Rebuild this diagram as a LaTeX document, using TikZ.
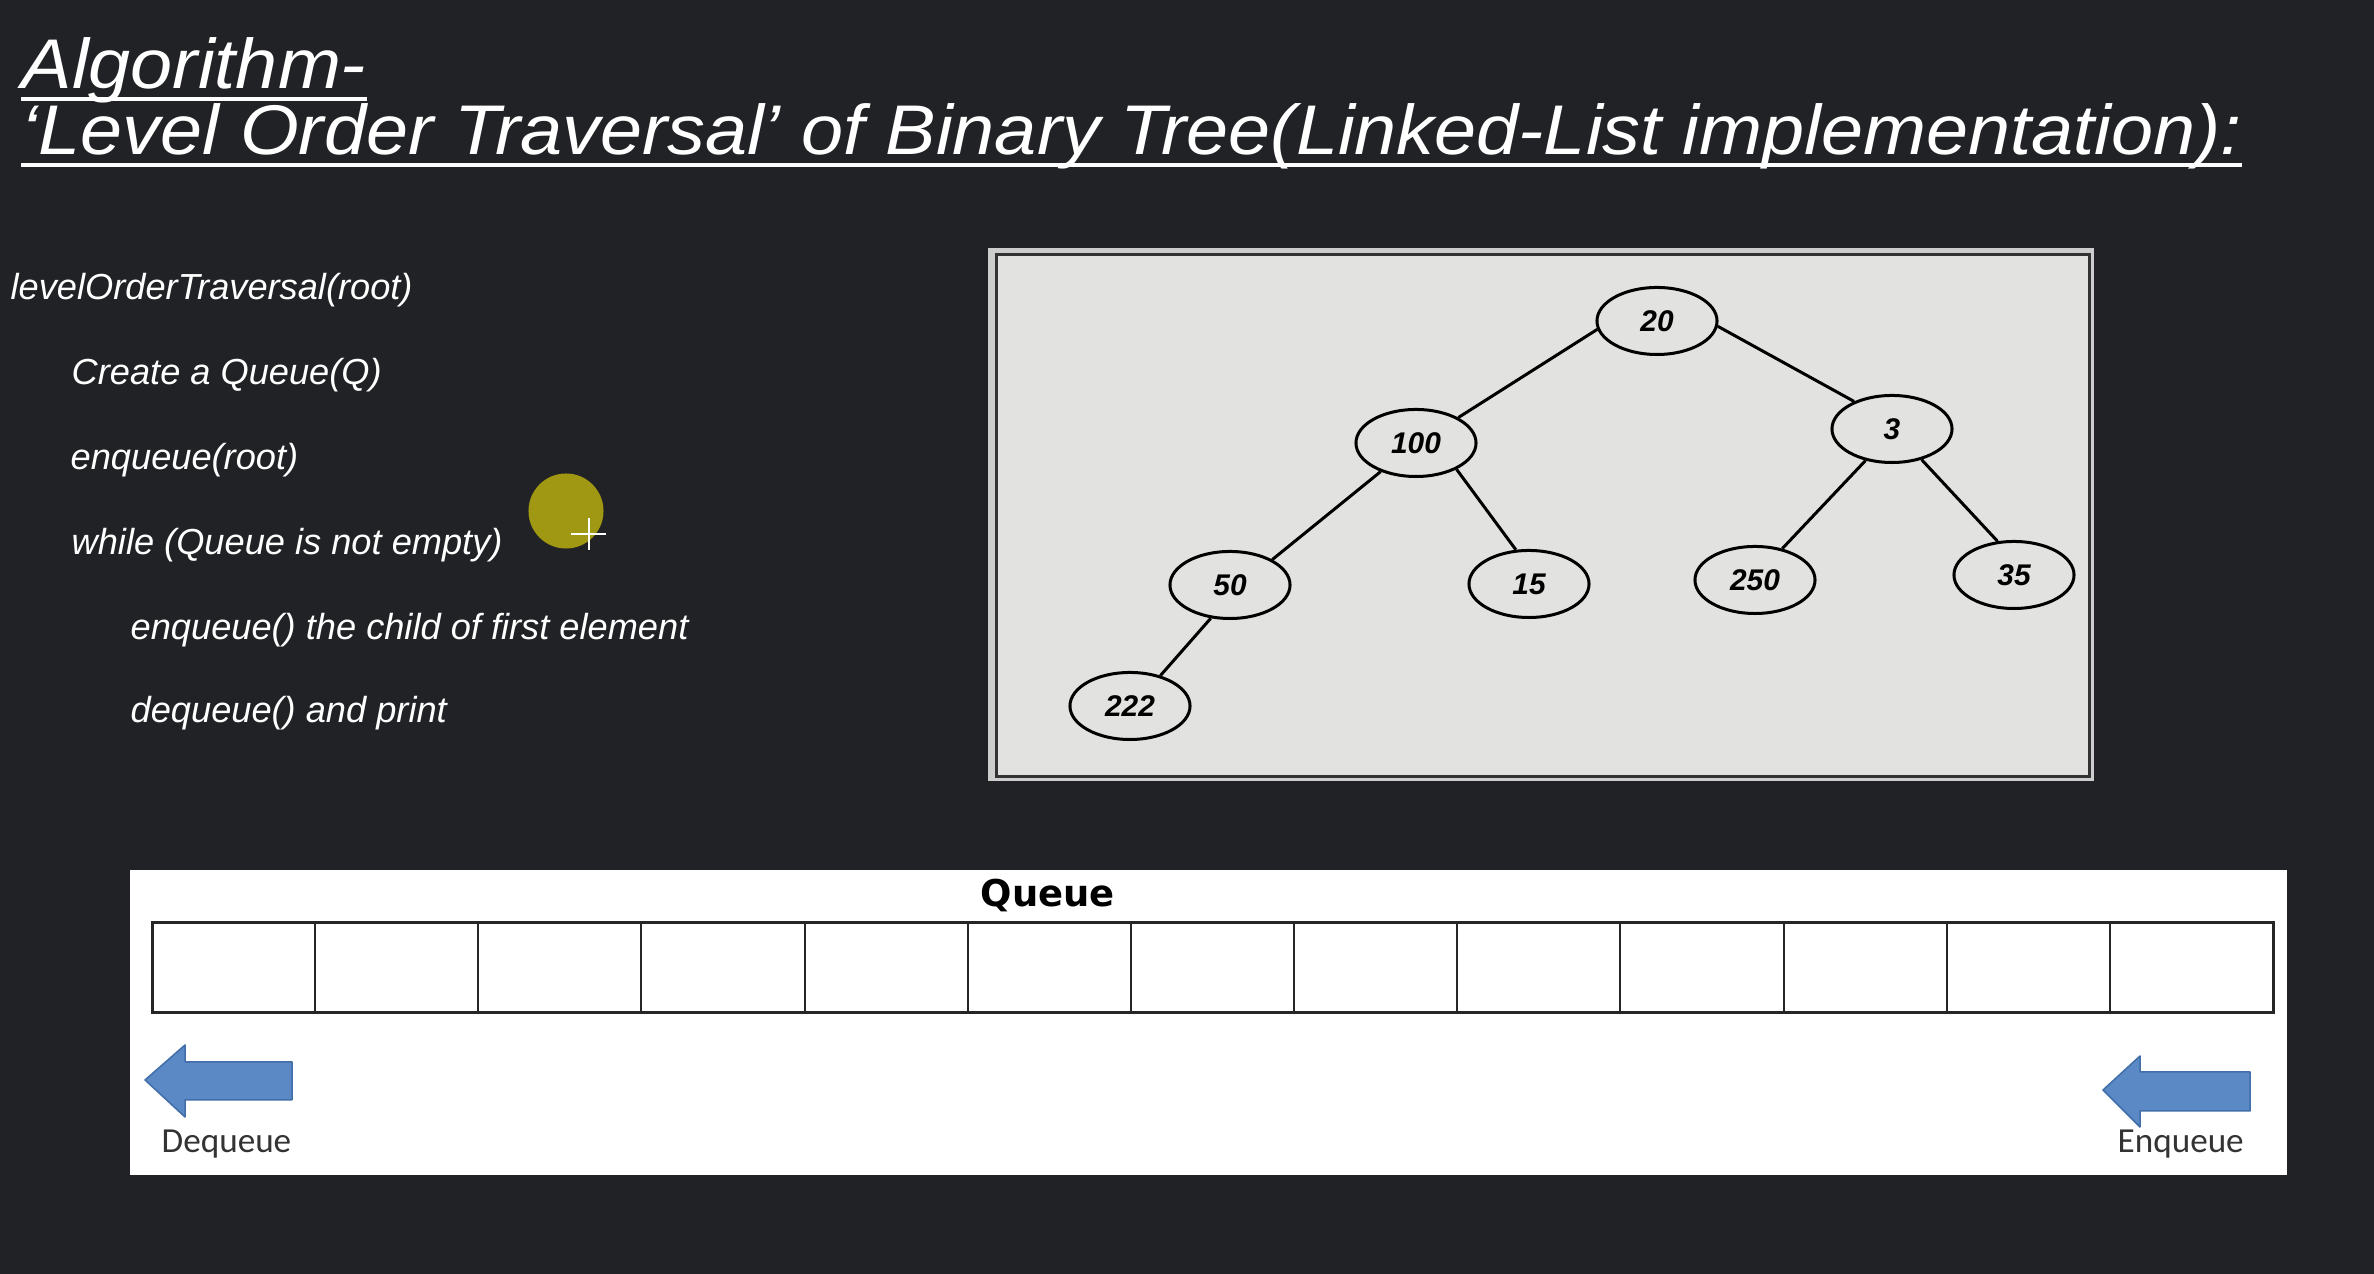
\documentclass[tikz,border=0pt]{standalone}
\usepackage{fontspec}
\setmainfont{Liberation Sans}
\newfontfamily\labelfont{Carlito}
\newfontfamily\queuefont{DejaVu Sans}
\usepackage{graphicx}
\usepackage{xcolor}
\usepackage{tikz}
\usetikzlibrary{shapes.geometric,positioning}

\definecolor{slide}{RGB}{32,34,37}
\definecolor{panel}{RGB}{226,226,224}
\definecolor{frame}{RGB}{205,205,205}
\definecolor{arrowblue}{RGB}{91,137,198}
\definecolor{arrowedge}{RGB}{65,110,168}
\definecolor{pointer}{RGB}{160,152,18}

\newcommand{\widetitle}[1]{\scalebox{1.075}[1]{#1}}

\begin{document}
\begin{tikzpicture}[
    x=0.01cm, y=-0.01cm,
    titletext/.style={anchor=base west, text=white, inner sep=0pt, font=\fontsize{20}{24}\selectfont\itshape},
    codeline/.style={anchor=base west, text=white, inner sep=0pt, font=\fontsize{10.3}{12}\selectfont\itshape},
    treenode/.style={ellipse, draw, line width=0.03cm, fill=panel, minimum width=1.2cm, minimum height=0.67cm, inner sep=0pt, font=\fontsize{8.5}{10}\selectfont\bfseries\itshape},
    edge/.style={line width=0.03cm},
    cell/.style={draw=black!85, line width=0.02cm},
    bigarrow/.style={fill=arrowblue, draw=arrowedge, line width=0.015cm, line join=round},
    sidelabel/.style={anchor=base west, inner sep=0pt, text=black!80, font=\labelfont\fontsize{10}{12}\selectfont}
]
    % Slide
    \fill[slide] (0,0) rectangle (2374,1274);

    % Title
    \node[titletext] (t1) at (21,89) {\widetitle{Algorithm-}};
    \node[titletext] (t2) at (21,155) {\widetitle{‘Level Order Traversal’ of Binary Tree(Linked-List implementation):}};
    \draw[white, line width=0.04cm] ([yshift=-0.1cm]t1.base west) -- ([yshift=-0.1cm]t1.base east);
    \draw[white, line width=0.04cm] ([yshift=-0.1cm]t2.base west) -- ([yshift=-0.1cm]t2.base east);

    % Pseudocode
    \node[codeline] (c1) at (10,300) {levelOrderTraversal(root)};
    \node[codeline] (c2) at (71,385) {Create a Queue(Q)};
    \node[codeline] (c3) at (70,470) {enqueue(root)};
    \node[codeline] (c4) at (71,555) {while (Queue is not empty)};
    \node[codeline] (c5) at (130,640) {enqueue() the child of first element};
    \node[codeline] (c6) at (130,723) {dequeue() and print};

    % Pointer
    \fill[pointer] (566,511) circle [radius=0.375cm];
    \draw[white, line width=0.012cm] (571,534) -- (606,534);
    \draw[white, line width=0.012cm] (589,518) -- (589,550);

    % Tree
    \fill[frame] (988,248) rectangle (2094,781);
    \draw[black!80, line width=0.03cm, fill=panel] (996,255) rectangle (2089,777);

    \node[treenode] (n20) at (1657,321) {20};
    \node[treenode] (n100) at (1416,443) {100};
    \node[treenode] (n3) at (1892,429) {3};
    \node[treenode] (n50) at (1230,585) {50};
    \node[treenode] (n15) at (1529,584) {15};
    \node[treenode] (n250) at (1755,580) {250};
    \node[treenode] (n35) at (2014,575) {35};
    \node[treenode] (n222) at (1130,706) {222};

    \draw[edge] (n20.188) -- (n100.31);
    \draw[edge] (n20.355) -- (n3.144);
    \draw[edge] (n100.219) -- (n50.31);
    \draw[edge] (n100.327) -- (n15.111);
    \draw[edge] (n3.230) -- (n250.49);
    \draw[edge] (n3.314) -- (n35.116);
    \draw[edge] (n50.240) -- (n222.45);

    % Queue
    \fill[white] (130,870) rectangle (2287,1175);
    \node[anchor=base, inner sep=0pt, font=\queuefont\bfseries\fontsize{10.5}{12}\selectfont] (qtitle) at (1048,907) {Queue};
    \foreach \i in {0,...,12}
        \draw[cell] ({152+\i*163.15},923) rectangle ++(163.15,90);
    \draw[black!85, line width=0.03cm] (152,923) rectangle (2273,1013);

    \draw[bigarrow] (145,1080) -- (185,1045) -- (185,1062) -- (292,1062) -- (292,1100) -- (185,1100) -- (185,1117) -- cycle;
    \draw[bigarrow] (2103,1090) -- (2140,1056) -- (2140,1072) -- (2250,1072) -- (2250,1111) -- (2140,1111) -- (2140,1127) -- cycle;
    \node[sidelabel] (deq) at (161,1153) {Dequeue};
    \node[sidelabel] (enq) at (2117,1153) {Enqueue};
\end{tikzpicture}
\end{document}
